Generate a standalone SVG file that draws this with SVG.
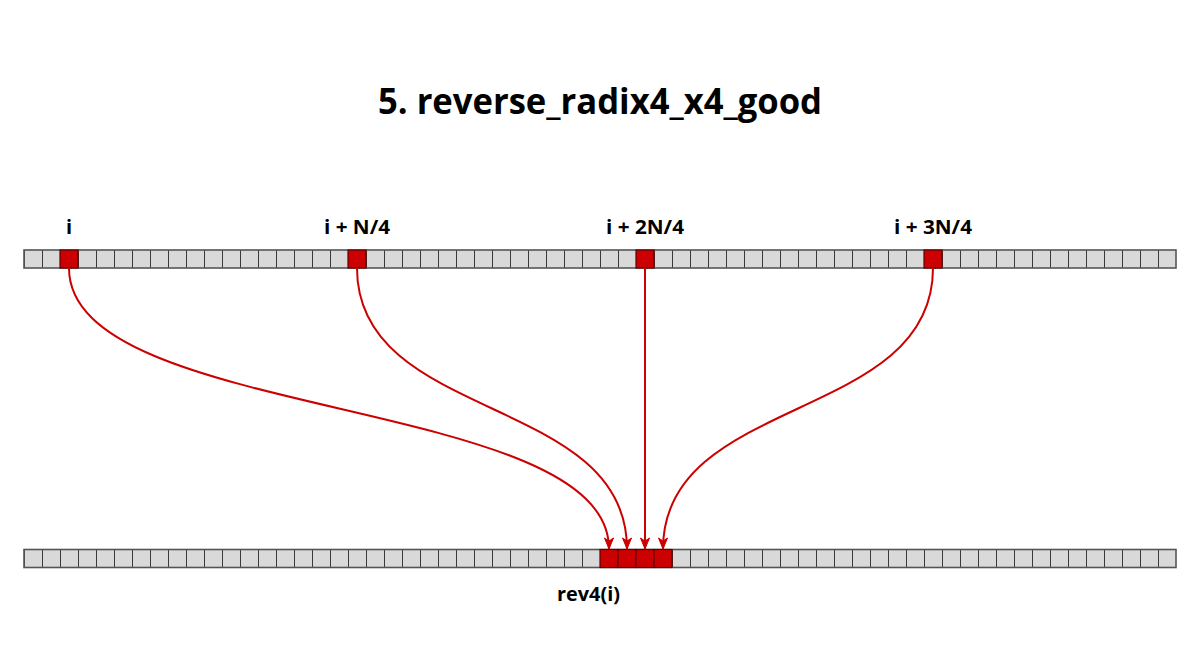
<svg xmlns="http://www.w3.org/2000/svg" width="1200" height="650" viewBox="0 0 1200 650">
  <style>
    .lbl { font-family: "Open Sans", "Liberation Sans", sans-serif; font-weight: bold; fill: #000; text-anchor: middle; }
    .row { fill: url(#cells); stroke: #555555; stroke-width: 1.6; }
    .hot { fill: #cc0000; stroke: #5e0000; stroke-width: 1.2; }
    .conn { fill: none; stroke: #cc0000; stroke-width: 2; marker-end: url(#arrow); }
  </style>
  <defs>
    <pattern id="cells" patternUnits="userSpaceOnUse" x="24" y="0" width="18" height="650">
      <rect x="0" y="0" width="18" height="650" fill="#d9d9d9"/>
      <line x1="0" y1="0" x2="0" y2="650" stroke="#3a3a3a" stroke-width="2"/>
    </pattern>
    <marker id="arrow" markerUnits="userSpaceOnUse" markerWidth="14" markerHeight="12" viewBox="0 0 14 12" refX="12" refY="6" orient="auto">
      <path d="M1,1.5 L12,6 L1,10.5 L4,6 Z" fill="#cc0000" stroke="#cc0000" stroke-width="1" stroke-linejoin="miter"/>
    </marker>
  </defs>

  <rect width="1200" height="650" fill="#ffffff"/>

  <g id="title">
    <text class="lbl" x="600" y="114" font-size="35" textLength="444" lengthAdjust="spacingAndGlyphs">5. reverse_radix4_x4_good</text>
  </g>

  <g id="top-row">
    <rect class="row" x="24" y="250" width="1152" height="18"/>
    <rect class="hot" x="60" y="250" width="18" height="18"/>
    <rect class="hot" x="348" y="250" width="18" height="18"/>
    <rect class="hot" x="636" y="250" width="18" height="18"/>
    <rect class="hot" x="924" y="250" width="18" height="18"/>
  </g>

  <g id="bottom-row">
    <rect class="row" x="24" y="549.5" width="1152" height="18"/>
    <rect class="hot" x="600" y="549.5" width="18" height="18"/>
    <rect class="hot" x="618" y="549.5" width="18" height="18"/>
    <rect class="hot" x="636" y="549.5" width="18" height="18"/>
    <rect class="hot" x="654" y="549.5" width="18" height="18"/>
  </g>

  <g id="labels">
    <text class="lbl" x="69" y="234" font-size="20">i</text>
    <text class="lbl" x="357" y="234" font-size="20" textLength="66" lengthAdjust="spacingAndGlyphs">i + N/4</text>
    <text class="lbl" x="645" y="234" font-size="20" textLength="78" lengthAdjust="spacingAndGlyphs">i + 2N/4</text>
    <text class="lbl" x="933" y="234" font-size="20" textLength="78" lengthAdjust="spacingAndGlyphs">i + 3N/4</text>
    <text class="lbl" x="588.5" y="601" font-size="20" textLength="63" lengthAdjust="spacingAndGlyphs">rev4(i)</text>
  </g>

  <g id="connectors">
    <path class="conn" d="M69,268 C69,423 609,394 609,549"/>
    <path class="conn" d="M357,268 C357,423 627,394 627,549"/>
    <path class="conn" d="M645,268 L645,549"/>
    <path class="conn" d="M933,268 C933,423 663,394 663,549"/>
  </g>
</svg>
